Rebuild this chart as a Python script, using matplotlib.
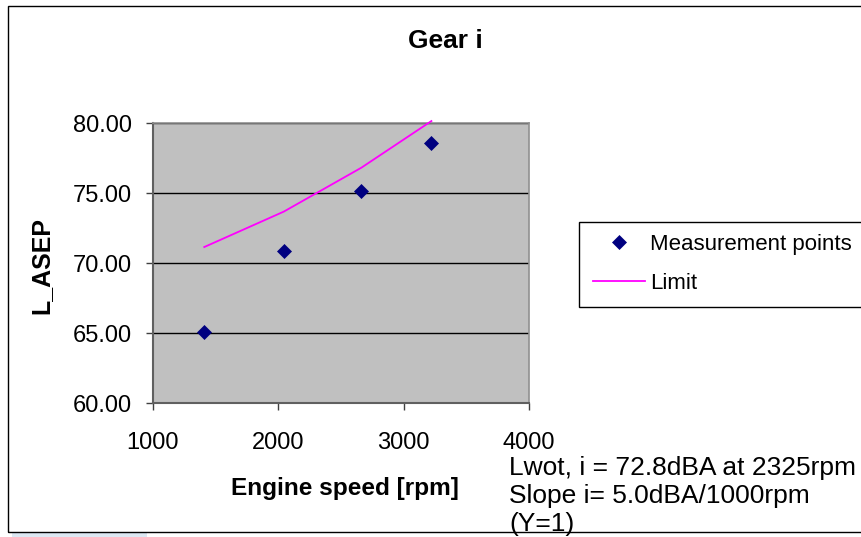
import matplotlib.pyplot as plt
import matplotlib.patches as mpatches
import numpy as np

plt.rcParams['font.family'] = ['Liberation Sans', 'DejaVu Sans']

# data
rpm = [1411, 2045, 2664, 3222]
measured = [65.1, 70.86, 75.14, 78.55]
limit = [71.14, 73.67, 76.81, 80.14]
x_ticks = [1000, 2000, 3000, 4000]
y_ticks = [60, 65, 70, 75, 80]
notes = ["Lwot, i = 72.8dBA at 2325rpm",
         "Slope i= 5.0dBA/1000rpm",
         "(Y=1)"]

W, H = 861, 537


def fx(px):
    return px / W


def fy(py):
    return 1 - py / H


fig = plt.figure(figsize=(W / 100, H / 100), dpi=100)

# chart border and the light blue strip below it
fig.patches.append(mpatches.Rectangle((fx(12), fy(537)), fx(135), 5 / H,
                                      transform=fig.transFigure,
                                      facecolor='#dce8f3', edgecolor='none',
                                      zorder=-2))
fig.patches.append(mpatches.Rectangle((fx(8), fy(532)), fx(900), 526 / H,
                                      transform=fig.transFigure,
                                      facecolor='none', edgecolor='black',
                                      linewidth=1.0, zorder=-2))

ax = fig.add_axes([fx(152.7), fy(403), fx(529) - fx(152.7), fy(123) - fy(403)])
ax.set_facecolor('#C0C0C0')

ax.plot(rpm, measured, linestyle='none', marker='D', markersize=7.2,
        color='#000080', markeredgewidth=0.5, label='Measurement points',
        zorder=3)
ax.plot(rpm, limit, color='#FF00FF', linewidth=1.3, label='Limit',
        clip_on=False, zorder=3)

ax.set_xlim(1000, 4000)
ax.set_ylim(60, 80)
ax.set_xticks(x_ticks)
ax.set_yticks(y_ticks)
ax.set_yticklabels(['%.2f' % v for v in y_ticks])
ax.tick_params(axis='both', labelsize=17, direction='out', length=5,
               width=1, color='#404040')
ax.tick_params(axis='y', pad=10)
ax.tick_params(axis='x', pad=16)
ax.yaxis.grid(True, color='black', linewidth=1)
ax.set_axisbelow(True)
for s in ['top', 'right']:
    ax.spines[s].set_color('#909090')
    ax.spines[s].set_linewidth(1.2)
for s in ['left', 'bottom']:
    ax.spines[s].set_color('#606060')
    ax.spines[s].set_linewidth(1.5)

fig.text(fx(445), fy(48), 'Gear i', fontsize=19, fontweight='bold',
         ha='center', va='baseline')
fig.text(fx(41), fy(265), 'L_ASEP', fontsize=18, fontweight='bold',
         ha='center', va='center', rotation=90)
fig.text(fx(345), fy(495), 'Engine speed [rpm]', fontsize=17.6,
         fontweight='bold', ha='center', va='baseline')

for i, line in enumerate(notes):
    fig.text(fx(509), fy(475 + 28 * i), line, fontsize=19, ha='left',
             va='baseline')

# legend frame
fig.patches.append(mpatches.Rectangle((fx(579), fy(307)), fx(400), 85 / H,
                                      transform=fig.transFigure,
                                      facecolor='white', edgecolor='black',
                                      linewidth=1.0, zorder=-1))
ax.legend(loc='upper left', bbox_to_anchor=(fx(593), fy(234)),
          bbox_transform=fig.transFigure, frameon=False, fontsize=16,
          borderpad=0, borderaxespad=0, handlelength=2.34,
          handletextpad=0.22, labelspacing=0.8)

fig.savefig('out.png', dpi=100)
